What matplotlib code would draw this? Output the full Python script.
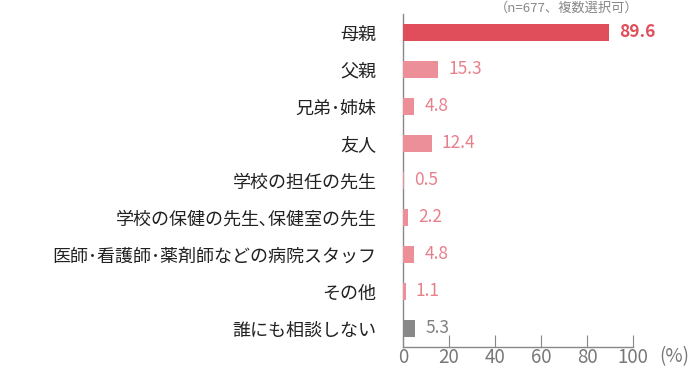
import matplotlib
matplotlib.use("Agg")
import matplotlib.pyplot as plt

plt.rcParams['font.family'] = ['Noto Sans CJK JP', 'DejaVu Sans']

categories = ["母親", "父親", "兄弟･姉妹", "友人", "学校の担任の先生",
              "学校の保健の先生､保健室の先生", "医師･看護師･薬剤師などの病院スタッフ",
              "その他", "誰にも相談しない"]
values = [89.6, 15.3, 4.8, 12.4, 0.5, 2.2, 4.8, 1.1, 5.3]
xticks = [0, 20, 40, 60, 80, 100]

red = "#E04E5C"
pink = "#EC8F98"
gray = "#888888"
colors = [red] + [pink] * 7 + [gray]
text_colors = [red] + ["#E8808B"] * 7 + ["#808080"]

fig = plt.figure(figsize=(6.92, 3.67), dpi=100)
ax = fig.add_axes([0.5824, 0.0545, 0.3323, 0.9075])

ypos = list(range(len(categories)))
ax.barh(ypos, values, height=0.44, color=colors, zorder=3)
for y, v, c in zip(ypos, values, text_colors):
    ax.text(v + 4.5, y, f"{v}", va="center", ha="left", fontsize=12.5,
            color=c, fontweight="bold" if y == 0 else "normal")

ax.set_ylim(len(categories) - 0.5, -0.5)
ax.set_xlim(0, 100)
ax.set_yticks(ypos)
ax.set_yticklabels(categories, fontsize=13, color="#222222")
ax.set_xticks(xticks)
ax.set_xticklabels([str(t) for t in xticks], fontsize=13.5, color="#777777")
ax.tick_params(axis="y", length=0, pad=19)
ax.tick_params(axis="x", direction="in", length=9, color="#888888", pad=0)
for s in ["top", "right"]:
    ax.spines[s].set_visible(False)
for s in ["left", "bottom"]:
    ax.spines[s].set_color("#888888")
    ax.spines[s].set_linewidth(1)

fig.text(0.922, 0.977, "（n=677、複数選択可）", ha="right", va="center",
         fontsize=9.5, color="#888888")
fig.text(0.975, 0.027, "(%)", ha="center", va="center", fontsize=13.5, color="#777777")

fig.savefig("out.png", dpi=100)
